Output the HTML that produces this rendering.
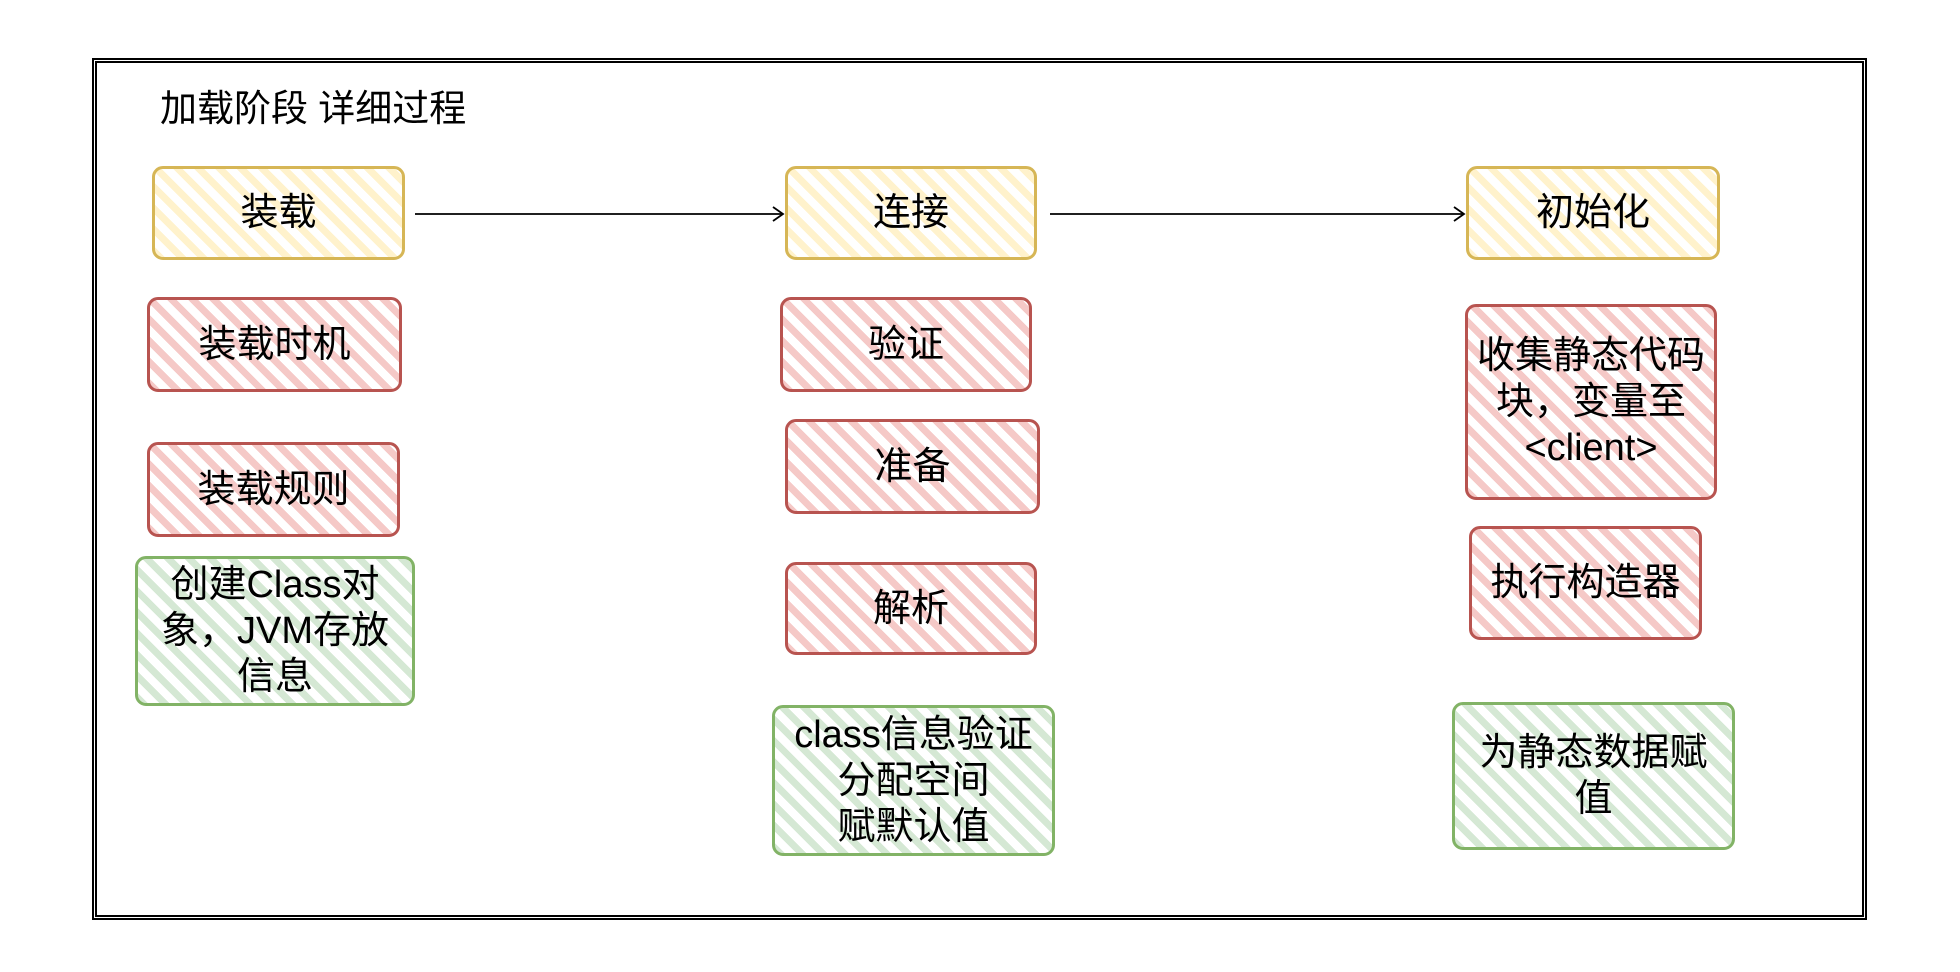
<!DOCTYPE html>
<html><head><meta charset="utf-8"><style>
html,body{margin:0;padding:0;background:#fff;}
body{width:1960px;height:972px;position:relative;overflow:hidden;font-family:"Liberation Sans","Noto Sans CJK SC",sans-serif;}
.frame{position:absolute;left:92px;top:58px;width:1765px;height:852px;border:5px double #000;}
.title{position:absolute;left:160px;top:84px;font-size:37px;line-height:50px;color:#000;}
.b{position:absolute;box-sizing:border-box;border:3.5px solid;border-radius:11px;display:flex;align-items:center;justify-content:center;text-align:center;font-size:38px;line-height:46px;color:#000;}
.y{border-color:#d6b656;background:repeating-linear-gradient(45deg,#fff2cc 0 7px,#fff 7px 15px);}
.r{border-color:#b85450;background:repeating-linear-gradient(45deg,#f5c9c7 0 7px,#fff 7px 15px);}
.g{border-color:#82b366;background:repeating-linear-gradient(45deg,#d5e8d4 0 7px,#fff 7px 15px);}
svg{position:absolute;left:0;top:0;}
</style></head><body>
<div class="frame"></div>
<div class="title">加载阶段 详细过程</div>
<svg width="1960" height="972">
<line x1="415" y1="214" x2="783" y2="214" stroke="#000" stroke-width="1.8"/>
<polyline points="773,207 783,214 773,221" fill="none" stroke="#000" stroke-width="1.8"/>
<line x1="1050" y1="214" x2="1464" y2="214" stroke="#000" stroke-width="1.8"/>
<polyline points="1454,207 1464,214 1454,221" fill="none" stroke="#000" stroke-width="1.8"/>
</svg>
<div class="b y" style="left:152px;top:166px;width:253px;height:94px;">装载</div>
<div class="b y" style="left:785px;top:166px;width:252px;height:94px;">连接</div>
<div class="b y" style="left:1466px;top:166px;width:254px;height:94px;">初始化</div>
<div class="b r" style="left:147px;top:297px;width:255px;height:95px;">装载时机</div>
<div class="b r" style="left:147px;top:442px;width:253px;height:95px;">装载规则</div>
<div class="b g" style="left:135px;top:556px;width:280px;height:150px;">创建Class对<br>象，JVM存放<br>信息</div>
<div class="b r" style="left:780px;top:297px;width:252px;height:95px;">验证</div>
<div class="b r" style="left:785px;top:419px;width:255px;height:95px;">准备</div>
<div class="b r" style="left:785px;top:562px;width:252px;height:93px;">解析</div>
<div class="b g" style="left:772px;top:705px;width:283px;height:151px;">class信息验证<br>分配空间<br>赋默认值</div>
<div class="b r" style="left:1465px;top:304px;width:252px;height:196px;">收集静态代码<br>块，变量至<br>&lt;client&gt;</div>
<div class="b r" style="left:1469px;top:526px;width:233px;height:114px;">执行构造器</div>
<div class="b g" style="left:1452px;top:702px;width:283px;height:148px;">为静态数据赋<br>值</div>
</body></html>
